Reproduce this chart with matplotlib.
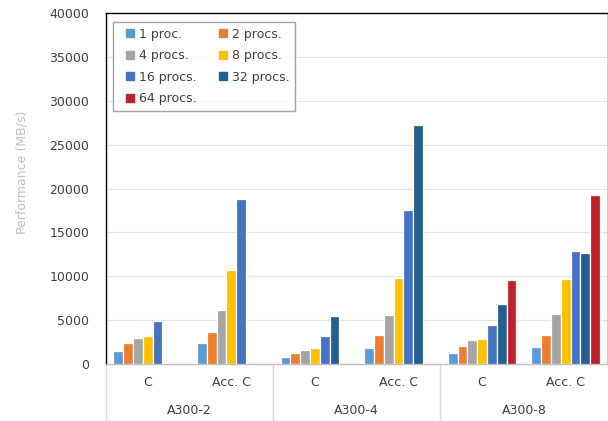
import numpy as np
import matplotlib
matplotlib.use("Agg")
import matplotlib.pyplot as plt
from matplotlib.lines import Line2D

plt.rcParams['font.family'] = ['DejaVu Sans']

# Platforms and variants along the x axis
groups = ["A300-2", "A300-4", "A300-8"]
variants = ["C", "Acc. C"]

series_names = ["1 proc.", "2 procs.", "4 procs.", "8 procs.",
                "16 procs.", "32 procs.", "64 procs."]
series_colors = ["#5B9BD5", "#ED7D31", "#A5A5A5", "#FFC000",
                 "#4472C4", "#255E91", "#C0202A"]

nan = np.nan
# Performance (MB/s), one list per process count; order:
# A300-2 C, A300-2 Acc. C, A300-4 C, A300-4 Acc. C, A300-8 C, A300-8 Acc. C
perf_1 = [1500, 2400, 830, 1800, 1300, 1950]
perf_2 = [2400, 3650, 1230, 3250, 2050, 3250]
perf_4 = [3000, 6200, 1650, 5600, 2750, 5650]
perf_8 = [3200, 10700, 1800, 9800, 2900, 9700]
perf_16 = [4900, 18800, 3200, 17550, 4500, 12850]
perf_32 = [nan, nan, 5450, 27200, 6800, 12650]
perf_64 = [nan, nan, nan, nan, 9550, 19250]
series_values = [perf_1, perf_2, perf_4, perf_8, perf_16, perf_32, perf_64]

W, H = 608, 421
fig = plt.figure(figsize=(W / 100, H / 100), dpi=100)
ax = fig.add_axes([106 / W, 1 - 364 / H, 501.5 / W, 351 / H])

n_cat = len(groups) * len(variants)
x = np.arange(n_cat)
pitch = 0.1173
for i, (name, color, vals) in enumerate(zip(series_names, series_colors, series_values)):
    ax.bar(x + (i - 3) * pitch, vals, width=pitch, color=color,
           edgecolor="white", linewidth=0.9, label=name, zorder=3)

ax.set_xlim(-0.5, n_cat - 0.5)
ax.set_ylim(0, 40000)
ax.set_yticks(np.arange(0, 40001, 5000))
ax.tick_params(axis="y", length=0, labelsize=9, labelcolor="#404040", pad=12)
ax.set_xticks([])
ax.yaxis.grid(True, color="#E4E4E4", linewidth=0.9, zorder=0)
ax.set_axisbelow(True)

for side in ("top", "right", "left"):
    ax.spines[side].set_color("black")
    ax.spines[side].set_linewidth(1.0)
ax.spines["bottom"].set_color("#BFBFBF")
ax.spines["bottom"].set_linewidth(1.0)

# Two-level category axis
tr = ax.get_xaxis_transform()
for k in range(n_cat):
    ax.text(x[k], -19 / 351, variants[k % 2], transform=tr, ha="center",
            va="center", fontsize=9, color="#404040")
for g, name in enumerate(groups):
    ax.text(2 * g + 0.5, -47 / 351, name, transform=tr, ha="center",
            va="center", fontsize=9, color="#404040")
for b in (-0.5, 1.5, 3.5):
    ax.plot([b, b], [0, -57 / 351], transform=tr, color="#D9D9D9",
            linewidth=1.0, clip_on=False)

fig.text(22 / W, 1 - 172 / H, "Performance (MB/s)", rotation=90,
         ha="center", va="center", fontsize=9, color="#BFBFBF")

# Legend filled row by row: matplotlib fills columns first, so reorder
order = [0, 2, 4, 6, 1, 3, 5]
handles = [Line2D([], [], marker="s", linestyle="none", markersize=5.2,
                  markerfacecolor=series_colors[i], markeredgecolor=series_colors[i])
           for i in order]
labels = [series_names[i] for i in order]
leg = ax.legend(handles, labels, ncol=2, loc="upper left",
                bbox_to_anchor=(7 / 501.5, (364 - 22) / 351),
                fontsize=9, frameon=True, fancybox=False,
                handletextpad=-0.25, handlelength=1.9, columnspacing=1.16,
                labelspacing=0.68, borderpad=0.45, borderaxespad=0)
leg.get_frame().set_edgecolor("#8C8C8C")
leg.get_frame().set_linewidth(1.0)
for t in leg.get_texts():
    t.set_color("#404040")

fig.savefig("out.png", dpi=100)
